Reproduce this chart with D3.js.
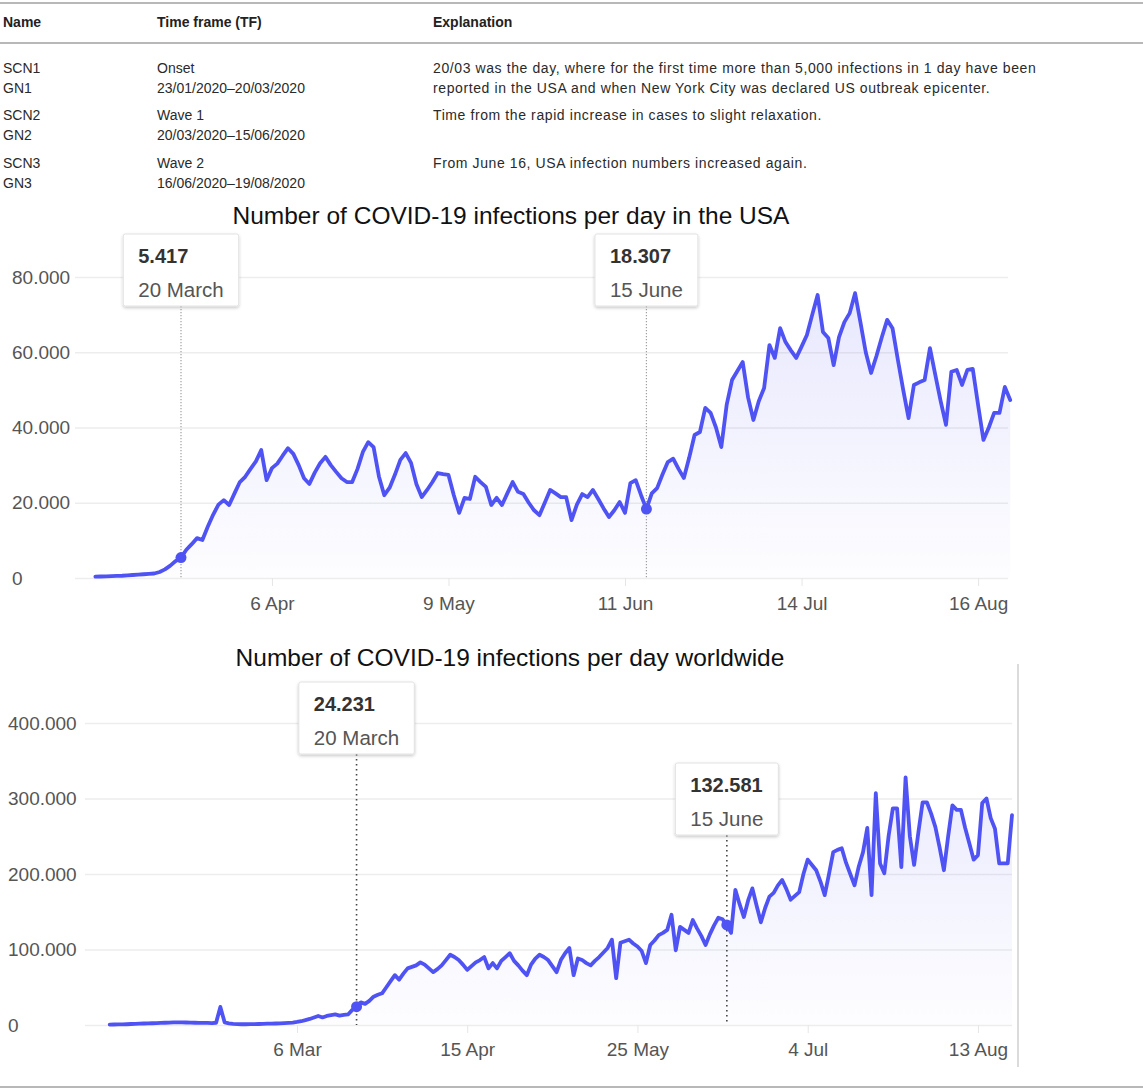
<!DOCTYPE html>
<html>
<head>
<meta charset="utf-8">
<script src="https://cdn.jsdelivr.net/npm/d3@7"></script>
<style>
  body { margin: 0; background: #fff; }
  svg { display: block; font-family: "Liberation Sans", Arial, Helvetica, sans-serif; }
</style>
</head>
<body>
<svg id="fig"></svg>
<script>
// ---- table text ----
const tableHeaders = ["Name", "Time frame (TF)", "Explanation"];
const tableNames = ["SCN1", "GN1", "SCN2", "GN2", "SCN3", "GN3"];
const tableFrames = ["Onset", "23/01/2020–20/03/2020", "Wave 1", "20/03/2020–15/06/2020", "Wave 2", "16/06/2020–19/08/2020"];
const tableNotes = [
  "20/03 was the day, where for the first time more than 5,000 infections in 1 day have been",
  "reported in the USA and when New York City was declared US outbreak epicenter.",
  "Time from the rapid increase in cases to slight relaxation.",
  "",
  "From June 16, USA infection numbers increased again.",
  ""
];

// ---- USA daily infections, from 4 March 2020 ----
const usaStart = "2020-03-04";
const usaCases = [
  350, 400, 450, 500, 550, 600, 700, 800, 900, 1000,
  1100, 1200, 1600, 2300, 3300, 4500, 5417, 7500, 9000, 10600,
  10100, 13600, 16800, 19500, 20700, 19400, 22500, 25500, 26900, 29000,
  31000, 34000, 26000, 29200, 30400, 32500, 34500, 33000, 30000, 26500,
  25000, 28000, 30500, 32200, 30000, 28200, 26500, 25500, 25500, 29000,
  33500, 36100, 34800, 27000, 22000, 24000, 27500, 31400, 33200, 30600,
  25000, 21500, 23400, 25500, 27900, 27600, 27400, 22000, 17300, 21300,
  21000, 26900, 25500, 24200, 19400, 21300, 19400, 22500, 25500, 22900,
  22300, 20000, 18000, 16700, 20000, 23400, 22500, 21500, 21500, 15400,
  19500, 22300, 21500, 23400, 21000, 18500, 16200, 18000, 20200, 17300,
  25200, 26000, 22000, 18307, 22500, 23900, 27500, 30800, 31700, 29000,
  26600, 32000, 38000, 38800, 45200, 43900, 40000, 34800, 46000, 52600,
  55000, 57400, 48000, 42000, 47000, 50500, 61900, 58500, 66400, 62700,
  60500, 58500, 61500, 64600, 70000, 75200, 65400, 63800, 56600, 64000,
  68000, 70400, 75700, 68000, 60000, 54500, 59000, 64000, 68600, 66400,
  58000, 50000, 42500, 51300, 52000, 52600, 61100, 54000, 47000, 40700,
  54800, 55300, 51300, 55300, 55600, 46000, 36700, 40000, 43900, 43900,
  50800, 47300
];
const usaXTicks = ["2020-04-06", "2020-05-09", "2020-06-11", "2020-07-14", "2020-08-16"];
const usaYTicks = [0, 20000, 40000, 60000, 80000];
const usaNoteDates = ["2020-03-20", "2020-06-15"];
const usaNoteValues = [5417, 18307];
const usaNoteLabels = ["20 March", "15 June"];

// ---- worldwide daily infections, from 22 January 2020 ----
const worldStart = "2020-01-22";
const worldCases = [
  600, 650, 700, 800, 1000, 1300, 1500, 1800, 2000, 2100,
  2300, 2500, 2700, 3000, 3200, 3500, 3600, 3400, 3300, 3100,
  3000, 2900, 2800, 2700, 2600, 3000, 24000, 3500, 2200, 1500,
  1200, 1000, 1000, 1100, 1200, 1300, 1500, 1700, 1800, 2000,
  2200, 2500, 2800, 3200, 4000, 5000, 6500, 8000, 10000, 12000,
  10000, 12000, 13000, 14000, 12500, 13500, 14000, 20000, 24231, 30000,
  28000, 32000, 37500, 40000, 42000, 50000, 58000, 66000, 60000, 68000,
  75000, 77000, 79000, 83000, 80000, 75000, 70000, 74000, 79000, 86000,
  93000, 90000, 86000, 80000, 73000, 78000, 83000, 86000, 90000, 75000,
  82000, 75000, 85000, 90000, 95000, 85000, 79000, 72000, 66000, 80000,
  88000, 93000, 90000, 86000, 78000, 70000, 86000, 95000, 102000, 66000,
  88000, 86000, 82000, 79000, 85000, 90000, 96000, 102000, 113000, 62000,
  109000, 111000, 113000, 108000, 104000, 98000, 82000, 106000, 112000, 119000,
  122000, 126000, 146000, 99000, 130000, 126000, 122000, 139000, 128000, 118000,
  106000, 120000, 132000, 142000, 140000, 132581, 122000, 179000, 160000, 143000,
  165000, 181000, 158000, 136000, 155000, 170000, 175000, 185000, 192000, 180000,
  166000, 171000, 176000, 200000, 219000, 212000, 205000, 190000, 172000, 200000,
  229000, 232000, 234000, 215000, 200000, 185000, 210000, 229000, 261000, 172000,
  307000, 214000, 201000, 250000, 287000, 287000, 209000, 328000, 250000, 212000,
  255000, 295000, 295000, 280000, 262000, 235000, 205000, 250000, 291000, 285000,
  285000, 261000, 240000, 219000, 225000, 294000, 300000, 274000, 260000, 214000,
  214000, 214000, 278000
];
const worldXTicks = ["2020-03-06", "2020-04-15", "2020-05-25", "2020-07-04", "2020-08-13"];
const worldYTicks = [0, 100000, 200000, 300000, 400000];
const worldNoteDates = ["2020-03-20", "2020-06-15"];
const worldNoteValues = [24231, 132581];
const worldNoteLabels = ["20 March", "15 June"];

const W = 1143, H = 1090;
const lineColor = "#5053f3";
const parse = d3.timeParse("%Y-%m-%d");
const loc = d3.formatLocale({decimal: ",", thousands: ".", grouping: [3], currency: ["", ""]});
const fmtNum = loc.format(",d");
const fmtDate = d3.timeFormat("%-d %b");

const svg = d3.select("#fig").attr("width", W).attr("height", H);

// shadow for the tooltip boxes
const defs = svg.append("defs");
defs.append("filter").attr("id", "shadow")
  .attr("x", "-20%").attr("y", "-20%").attr("width", "140%").attr("height", "150%")
  .append("feDropShadow")
  .attr("dx", 0).attr("dy", 1.5).attr("stdDeviation", 1.6)
  .attr("flood-color", "#000").attr("flood-opacity", 0.22);

// ---- table ----
const rule = (y) => svg.append("line").attr("x1", 0).attr("x2", W)
  .attr("y1", y).attr("y2", y).attr("stroke", "#b8b8b8").attr("stroke-width", 2);
rule(3);
rule(43);
rule(1087);

const colX = [3, 157, 433];
const rowY = [73, 93, 120, 140, 168, 188];

svg.append("g").selectAll("text")
  .data(tableHeaders)
  .enter()
  .append("text")
  .attr("x", (d, i) => colX[i])
  .attr("y", 27)
  .attr("font-size", 14)
  .attr("font-weight", "bold")
  .attr("fill", "#222")
  .text(d => d);

const rows = tableNames.map((n, i) => [n, tableFrames[i], tableNotes[i]]);
svg.append("g").selectAll("g")
  .data(rows)
  .enter()
  .append("g")
  .attr("transform", (d, i) => `translate(0,${rowY[i]})`)
  .selectAll("text")
  .data(d => d)
  .enter()
  .append("text")
  .attr("x", (d, i) => colX[i])
  .attr("font-size", 14)
  .attr("letter-spacing", (d, i) => i == 2 ? 0.6 : 0)
  .attr("fill", "#2a2a2a")
  .text(d => d);

// ---- one chart ----
function drawChart(cfg) {
  const g = svg.append("g");
  const start = parse(cfg.start);
  const data = cfg.values.map((v, i) => ({date: d3.timeDay.offset(start, i), value: v}));

  const x = d3.scaleTime()
    .domain([start, data[data.length - 1].date])
    .range(cfg.xRange);
  const y = d3.scaleLinear()
    .domain(cfg.yDomain)
    .range(cfg.yRange);

  const gradId = "grad" + cfg.id;
  const grad = defs.append("linearGradient").attr("id", gradId)
    .attr("gradientUnits", "userSpaceOnUse")
    .attr("x1", 0).attr("x2", 0).attr("y1", cfg.yRange[1]).attr("y2", cfg.yRange[0]);
  grad.append("stop").attr("offset", 0).attr("stop-color", lineColor).attr("stop-opacity", 0.14);
  grad.append("stop").attr("offset", 1).attr("stop-color", lineColor).attr("stop-opacity", 0.01);

  g.append("text")
    .attr("x", cfg.titleX)
    .attr("y", cfg.titleY)
    .attr("text-anchor", "middle")
    .attr("font-size", 24.5)
    .attr("fill", "#111")
    .text(cfg.title);

  // y axis with grid
  g.append("g")
    .attr("transform", `translate(${cfg.gridLeft},0)`)
    .call(d3.axisLeft(y).tickValues(cfg.yTicks).tickFormat(fmtNum)
      .tickSize(-(cfg.gridRight - cfg.gridLeft)).tickPadding(0))
    .call(a => a.select(".domain").remove())
    .call(a => a.selectAll(".tick line").attr("stroke", "#ededed").attr("stroke-width", 1.5))
    .call(a => a.selectAll(".tick text")
      .attr("x", cfg.labelX - cfg.gridLeft)
      .attr("text-anchor", "start")
      .attr("fill", "#555")
      .attr("font-size", 19)
      .attr("font-family", "Liberation Sans, Arial, sans-serif"));

  // x axis
  g.append("g")
    .attr("transform", `translate(0,${cfg.yRange[0]})`)
    .call(d3.axisBottom(x).tickValues(cfg.xTicks.map(parse)).tickFormat(fmtDate)
      .tickSize(8).tickPadding(cfg.xPad))
    .call(a => a.select(".domain").remove())
    .call(a => a.selectAll(".tick line").attr("stroke", "#e6e6e6"))
    .call(a => a.selectAll(".tick text")
      .attr("fill", "#555")
      .attr("font-size", 19)
      .attr("font-family", "Liberation Sans, Arial, sans-serif"));

  if (cfg.frame) {
    g.append("line")
      .attr("x1", cfg.frame).attr("x2", cfg.frame)
      .attr("y1", cfg.frameTop).attr("y2", cfg.frameBottom)
      .attr("stroke", "#cfcfcf").attr("stroke-width", 1.5);
  }

  const area = d3.area()
    .x(d => x(d.date))
    .y0(y(0))
    .y1(d => y(d.value));
  const line = d3.line()
    .x(d => x(d.date))
    .y(d => y(d.value));

  g.append("path").datum(data).attr("d", area).attr("fill", `url(#${gradId})`);

  // dotted markers for the two highlighted days
  const notes = cfg.noteDates.map((d, i) => ({date: parse(d), value: cfg.noteValues[i], label: cfg.noteLabels[i], top: cfg.noteTops[i]}));
  const boxH = 72;
  g.selectAll(".guide")
    .data(notes)
    .enter()
    .append("line")
    .attr("class", "guide")
    .attr("x1", d => x(d.date)).attr("x2", d => x(d.date))
    .attr("y1", d => d.top + boxH).attr("y2", y(0))
    .attr("stroke", cfg.guideColor)
    .attr("stroke-width", cfg.guideWidth)
    .attr("stroke-dasharray", cfg.guideDash);

  g.append("path").datum(data)
    .attr("d", line)
    .attr("fill", "none")
    .attr("stroke", lineColor)
    .attr("stroke-width", 3.8)
    .attr("stroke-linejoin", "round")
    .attr("stroke-linecap", "round");

  g.selectAll(".dot")
    .data(notes)
    .enter()
    .append("circle")
    .attr("class", "dot")
    .attr("cx", d => x(d.date))
    .attr("cy", d => y(d.value))
    .attr("r", 5.5)
    .attr("fill", lineColor);

  const tip = g.selectAll(".tip")
    .data(notes)
    .enter()
    .append("g")
    .attr("class", "tip");

  tip.append("rect")
    .attr("y", d => d.top)
    .attr("height", boxH)
    .attr("rx", 2)
    .attr("fill", "#fff")
    .attr("stroke", "#e2e2e2")
    .attr("filter", "url(#shadow)");

  tip.append("text")
    .attr("y", d => d.top + 29)
    .attr("font-size", 20)
    .attr("font-weight", "bold")
    .attr("fill", "#333")
    .text(d => fmtNum(d.value));
  tip.append("text")
    .attr("y", d => d.top + 63)
    .attr("font-size", 20.5)
    .attr("fill", "#555")
    .text(d => d.label);

  tip.each(function(d) {
    const s = d3.select(this);
    const texts = s.selectAll("text").nodes();
    const w = d3.max(texts, t => t.getComputedTextLength()) + 30;
    const left = x(d.date) - w / 2;
    s.select("rect").attr("x", left).attr("width", w);
    s.selectAll("text").attr("x", left + 15);
  });
}

drawChart({
  id: "usa",
  title: "Number of COVID-19 infections per day in the USA",
  titleX: 511, titleY: 224,
  start: usaStart,
  values: usaCases,
  xRange: [95.4, 1010.2],
  yDomain: [0, 80000],
  yRange: [578, 277],
  yTicks: usaYTicks,
  xTicks: usaXTicks,
  xPad: 11,
  gridLeft: 75, gridRight: 1008,
  labelX: 12,
  noteDates: usaNoteDates,
  noteValues: usaNoteValues,
  noteLabels: usaNoteLabels,
  noteTops: [234, 234],
  guideColor: "#a0a0a0",
  guideWidth: 1.2,
  guideDash: "1.3,1.7"
});

drawChart({
  id: "world",
  title: "Number of COVID-19 infections per day worldwide",
  titleX: 510, titleY: 666,
  start: worldStart,
  values: worldCases,
  xRange: [109.7, 1012],
  yDomain: [0, 400000],
  yRange: [1025, 723],
  yTicks: worldYTicks,
  xTicks: worldXTicks,
  xPad: 10,
  gridLeft: 85, gridRight: 1012,
  labelX: 8,
  noteDates: worldNoteDates,
  noteValues: worldNoteValues,
  noteLabels: worldNoteLabels,
  noteTops: [682, 763],
  guideColor: "#444",
  guideWidth: 1.6,
  guideDash: "1.6,3.4",
  frame: 1018, frameTop: 664, frameBottom: 1067
});
</script>
</body>
</html>
